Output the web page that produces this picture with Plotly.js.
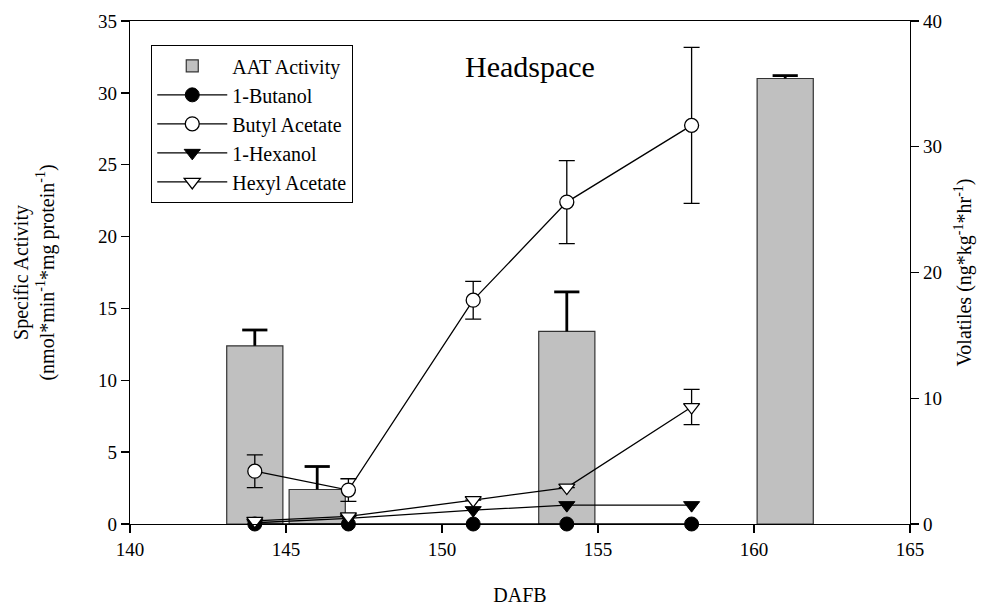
<!DOCTYPE html>
<html>
<head>
<meta charset="utf-8">
<script src="https://cdn.plot.ly/plotly-3.0.1.min.js"></script>
<style>
  html, body { margin: 0; padding: 0; background: #ffffff; }
  #chart { width: 1003px; height: 606px; }
</style>
</head>
<body>
<div id="chart"></div>
<script>
// AAT enzyme activity (left axis) by days after full bloom
const aatDays = [144, 146, 154, 161];
const aatActivity = [12.4, 2.4, 13.4, 31.0];
const aatError = [1.1, 1.6, 2.75, 0.2];

// Headspace volatiles (right axis)
const volDays = [144, 147, 151, 154, 158];
const butanol = [0, 0, 0, 0, 0];
const butylAcetate = [4.2, 2.7, 17.8, 25.6, 31.7];
const butylAcetateErr = [1.3, 0.9, 1.5, 3.3, 6.2];
const hexanol = [0.1, 0.45, 1.1, 1.5, 1.5];
const hexylAcetate = [0.25, 0.6, 1.9, 2.9, 9.3];
const hexylAcetateErr = [0, 0, 0, 0, 1.4];

const xTicks = [140, 145, 150, 155, 160, 165];
const leftTicks = [0, 5, 10, 15, 20, 25, 30, 35];
const rightTicks = [0, 10, 20, 30, 40];

const serif = 'Liberation Serif, Times New Roman, serif';
const zeros = aatActivity.map(() => 0);
const capHeights = aatActivity.map((v, i) => v + aatError[i]);

const traces = [
  {
    type: 'bar', name: 'AAT Activity',
    x: aatDays, y: aatActivity, width: 1.8,
    marker: { color: '#c0c0c0', line: { color: '#333333', width: 1.2 } },
    error_y: { type: 'data', symmetric: false, array: aatError, arrayminus: zeros,
               color: '#000', thickness: 2.8, width: 0 },
    yaxis: 'y', hoverinfo: 'x+y'
  },
  {
    // caps of the one-sided activity error bars
    type: 'scatter', mode: 'markers', showlegend: false,
    x: aatDays, y: capHeights,
    marker: { symbol: 'line-ew-open', size: 18, color: '#000', line: { color: '#000', width: 2.8 } },
    yaxis: 'y', cliponaxis: false, hoverinfo: 'skip'
  },
  {
    type: 'scatter', mode: 'lines+markers', name: '1-Butanol',
    x: volDays, y: butanol, yaxis: 'y2', cliponaxis: false,
    line: { color: '#000', width: 1.3 },
    marker: { symbol: 'circle', size: 14, color: '#000', line: { color: '#000', width: 1 } }
  },
  {
    type: 'scatter', mode: 'lines+markers', name: 'Butyl Acetate',
    x: volDays, y: butylAcetate, yaxis: 'y2', cliponaxis: false,
    line: { color: '#000', width: 1.3 },
    marker: { symbol: 'circle', size: 14, color: '#fff', line: { color: '#000', width: 1.3 } },
    error_y: { type: 'data', array: butylAcetateErr, color: '#000', thickness: 1.3, width: 8 }
  },
  {
    type: 'scatter', mode: 'lines+markers', name: '1-Hexanol',
    x: volDays, y: hexanol, yaxis: 'y2', cliponaxis: false,
    line: { color: '#000', width: 1.3 },
    marker: { symbol: 'triangle-down', size: 14, color: '#000', line: { color: '#000', width: 1 } }
  },
  {
    type: 'scatter', mode: 'lines+markers', name: 'Hexyl Acetate',
    x: volDays, y: hexylAcetate, yaxis: 'y2', cliponaxis: false,
    line: { color: '#000', width: 1.3 },
    marker: { symbol: 'triangle-down', size: 14, color: '#fff', line: { color: '#000', width: 1.3 } },
    error_y: { type: 'data', array: hexylAcetateErr, color: '#000', thickness: 1.3, width: 8 }
  }
];

const axisCommon = {
  showline: true, linecolor: '#000', linewidth: 1.3,
  ticks: 'outside', ticklen: 8, tickwidth: 1.3, tickcolor: '#000',
  showgrid: false, zeroline: false,
  tickfont: { family: serif, size: 19, color: '#000' }
};

const layout = {
  width: 1003, height: 606,
  margin: { l: 130, r: 93, t: 21, b: 82 },
  paper_bgcolor: '#fff', plot_bgcolor: '#fff',
  font: { family: serif, color: '#000' },
  bargap: 0,
  xaxis: Object.assign({}, axisCommon, {
    range: [140, 165], tickvals: xTicks, mirror: true,
    title: { text: 'DAFB', font: { family: serif, size: 20 }, standoff: 30 }
  }),
  yaxis: Object.assign({}, axisCommon, {
    range: [0, 35], tickvals: leftTicks,
    title: { text: 'Specific Activity<br>(nmol*min<sup>-1</sup>*mg protein<sup>-1</sup>)',
             font: { family: serif, size: 20 }, standoff: 38 }
  }),
  yaxis2: Object.assign({}, axisCommon, {
    range: [0, 40], tickvals: rightTicks, overlaying: 'y', side: 'right',
    title: { text: 'Volatiles (ng*kg<sup>-1</sup>*hr<sup>-1</sup>)',
             font: { family: serif, size: 20 }, standoff: 16 }
  }),
  legend: {
    x: 0.027, y: 0.952, xanchor: 'left', yanchor: 'top',
    bgcolor: '#fff', bordercolor: '#000', borderwidth: 1.2,
    font: { family: serif, size: 20, color: '#000' },
    tracegroupgap: 0, itemwidth: 70
  },
  annotations: [{
    text: 'Headspace', xref: 'paper', yref: 'paper', x: 0.513, y: 0.91,
    xanchor: 'center', yanchor: 'middle', showarrow: false,
    font: { family: serif, size: 30, color: '#000' }
  }],
  showlegend: true
};

Plotly.newPlot('chart', traces, layout, { displayModeBar: false, staticPlot: true });
</script>
</body>
</html>
